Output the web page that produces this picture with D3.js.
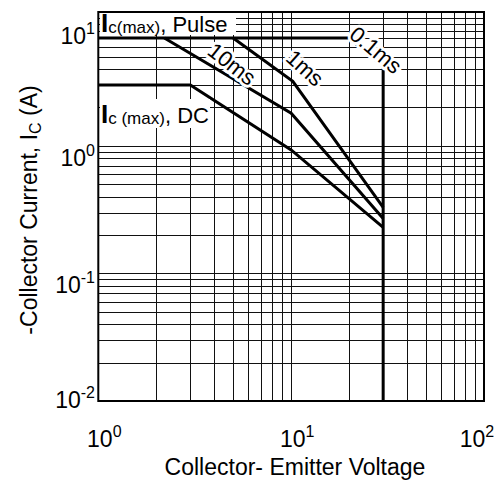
<!DOCTYPE html>
<html><head><meta charset="utf-8">
<script src="https://cdn.jsdelivr.net/npm/d3@7"></script>
<style>body{margin:0;background:#fff}</style></head>
<body>
<script>
// ---- data ----
const xTickValues = [1, 10, 100];
const xTickExp = ["0", "1", "2"];
const yTickValues = [0.01, 0.1, 1, 10];
const yTickExp = ["-2", "-1", "0", "1"];
const xGrid = [2,3,4,5,6,7,8,9,10,20,30,40,50,60,70,80,90];
const yGrid = [0.02,0.03,0.04,0.05,0.06,0.07,0.08,0.09,0.1,0.2,0.3,0.4,0.5,0.6,0.7,0.8,0.9,1,2,3,4,5,6,7,8,9,10];
// Safe operating area boundaries (V_CE in V, I_C in A)
const vPulse = [1, 20, 30, 30];
const iPulse = [7, 7, 4.2, 0.01];
const v1ms = [5, 10.2, 30];
const i1ms = [7, 3.2, 0.33];
const v10ms = [2.2, 10, 30];
const i10ms = [7, 1.8, 0.27];
const vDC = [1, 3, 10, 30];
const iDC = [3, 3, 0.93, 0.23];

const W = 494, H = 481;
const L = 98.3, R = 484, T = 12, B = 401;
const FONT = "'Liberation Sans', Arial, sans-serif";

const x = d3.scaleLog().domain([1, 100]).range([L, R]);
const y = d3.scaleLog().domain([0.01, 11.2]).range([B, T]);

const svg = d3.select("body").append("svg").attr("width", W).attr("height", H)
  .style("font-family", FONT);

// grid
const gx = svg.append("g").attr("transform", `translate(0,${B})`)
  .call(d3.axisBottom(x).tickValues(xGrid).tickSize(-(B - T)).tickFormat(""));
const gy = svg.append("g").attr("transform", `translate(${L},0)`)
  .call(d3.axisLeft(y).tickValues(yGrid).tickSize(-(R - L)).tickFormat(""));
[gx, gy].forEach(g => {
  g.select(".domain").remove();
  g.selectAll("line").attr("stroke", "#111").attr("stroke-width", 1).attr("shape-rendering", "crispEdges");
});

// curves
const line = d3.line().x(d => x(d[0])).y(d => y(d[1]));
const curves = [[vPulse, iPulse], [v1ms, i1ms], [v10ms, i10ms], [vDC, iDC]];
curves.forEach(([vs, is]) => {
  svg.append("path").datum(vs.map((v, k) => [v, is[k]]))
    .attr("d", line).attr("fill", "none").attr("stroke", "#000")
    .attr("stroke-width", 3).attr("stroke-linejoin", "miter");
});

// frame
svg.append("rect").attr("x", L).attr("y", T).attr("width", R - L).attr("height", B - T)
  .attr("fill", "none").attr("stroke", "#000").attr("stroke-width", 2);

function halo(sel) {
  return sel.attr("stroke", "#fff").attr("stroke-width", 6).attr("paint-order", "stroke")
    .attr("stroke-linejoin", "round").attr("fill", "#000");
}
// Ic(max), Pulse
svg.append("rect").attr("x", 100).attr("y", 13).attr("width", 136).attr("height", 22).attr("fill", "#fff");
const tp = svg.append("text").attr("x", 101).attr("y", 32).attr("font-size", 22);
tp.append("tspan").text("I").attr("font-size", 26).attr("font-weight", "bold");
tp.append("tspan").text("c(max)").attr("font-size", 17).attr("dy", 1);
tp.append("tspan").text(", Pulse").attr("dy", -1);

svg.append("rect").attr("x", 100).attr("y", 99).attr("width", 110).attr("height", 29).attr("fill", "#fff");
const td = svg.append("text").attr("x", 101).attr("y", 123).attr("font-size", 22);
td.append("tspan").text("I").attr("font-size", 26).attr("font-weight", "bold");
td.append("tspan").text("c (max)").attr("font-size", 17).attr("dy", 1);
td.append("tspan").text(", DC").attr("dy", -1);

[["10ms", 232, 64, 38], ["1ms", 305, 68, 42], ["0.1ms", 376, 50, 40]].forEach(([t, cx, cy, a]) => {
  halo(svg.append("text").attr("transform", `translate(${cx},${cy}) rotate(${a})`)
    .attr("text-anchor", "middle").attr("dy", "0.35em").attr("font-size", 22).text(t));
});

// tick labels
xTickValues.forEach((v, k) => {
  const t = svg.append("text").attr("x", Math.min(x(v) + 6, W - 17)).attr("y", 447)
    .attr("text-anchor", "middle").attr("font-size", 23);
  t.append("tspan").text("10");
  t.append("tspan").text(xTickExp[k]).attr("font-size", 16).attr("dy", -10);
});
yTickValues.forEach((v, k) => {
  const yy = Math.min(Math.max(y(v) + 20, T + 32), B + 7);
  const t = svg.append("text").attr("x", 95).attr("y", yy)
    .attr("text-anchor", "end").attr("font-size", 23);
  t.append("tspan").text("10");
  t.append("tspan").text(yTickExp[k]).attr("font-size", 16).attr("dy", -10);
});

// axis titles
svg.append("text").attr("x", 295).attr("y", 475).attr("text-anchor", "middle")
  .attr("font-size", 23).text("Collector- Emitter Voltage");
const yt = svg.append("text").attr("transform", "translate(37,210) rotate(-90)")
  .attr("text-anchor", "middle").attr("font-size", 23);
yt.append("tspan").text("-Collector Current, I");
yt.append("tspan").text("C").attr("font-size", 16).attr("dy", 4);
yt.append("tspan").text(" (A)").attr("dy", -4);
</script>
</body></html>
